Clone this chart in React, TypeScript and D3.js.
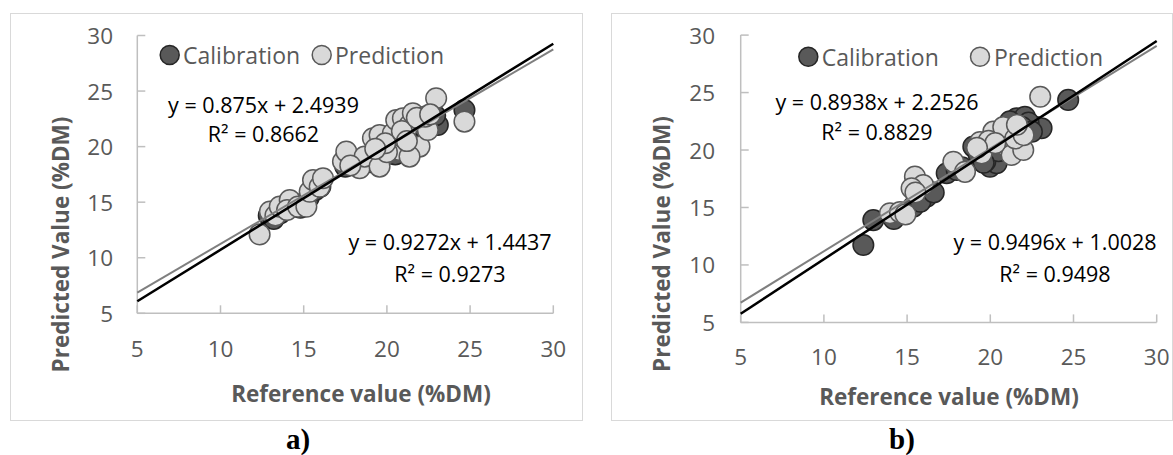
import React from "react";
import * as d3 from "d3";

// ---------- data ----------
const ticks = [5, 10, 15, 20, 25, 30];

const calA_ref = [12.9, 13.2, 13.6, 14.3, 14.8, 15.3, 15.7, 16.0, 17.5, 17.8, 18.4, 18.8, 19.3, 19.7, 20.0, 20.3, 20.7, 21.0, 21.2, 21.5, 21.8, 22.0, 22.3, 22.6, 23.06, 22.9, 24.66, 19.0, 20.5, 21.4];
const calA_pred = [13.8, 13.5, 14.0, 14.6, 14.5, 15.4, 16.1, 16.4, 18.2, 18.8, 18.2, 19.0, 19.5, 20.2, 19.6, 20.8, 21.2, 20.5, 21.8, 22.3, 21.2, 22.0, 21.6, 22.4, 21.95, 22.8, 23.3, 18.6, 19.3, 20.2];
const predA_ref = [12.35, 12.97, 13.3, 13.56, 14.16, 14.0, 14.66, 15.16, 15.36, 15.56, 15.96, 16.16, 17.36, 17.56, 18.36, 18.66, 19.16, 19.56, 19.76, 19.56, 20.36, 20.76, 20.56, 20.96, 21.36, 21.56, 21.96, 22.16, 22.46, 21.36, 22.96, 24.66, 20.0, 21.0, 22.3, 19.9, 20.9, 21.8, 21.2, 22.6, 19.3, 17.8];
const predA_pred = [12.1, 14.15, 13.8, 14.6, 15.2, 14.3, 14.6, 14.6, 15.95, 17.0, 16.4, 17.15, 18.65, 19.55, 18.05, 19.1, 20.75, 21.05, 19.1, 18.2, 21.2, 19.7, 22.4, 22.55, 21.95, 23.0, 20.0, 22.1, 21.5, 19.1, 24.35, 22.25, 19.5, 20.8, 22.7, 20.3, 21.4, 22.6, 20.5, 22.9, 19.8, 18.3];

const calB_ref = [12.37, 12.97, 15.37, 16.17, 15.8, 17.38, 17.98, 18.98, 19.98, 20.38, 19.7, 21.58, 22.08, 21.18, 22.78, 23.08, 24.68, 20.8, 21.5, 22.3, 16.6, 19.3, 20.0, 18.3, 14.2, 21.9, 22.5, 20.5, 19.6, 20.9];
const calB_pred = [11.74, 13.9, 15.07, 15.94, 15.5, 17.98, 18.26, 20.3, 18.55, 18.85, 19.0, 22.76, 22.9, 22.5, 22.0, 21.9, 24.36, 21.6, 21.0, 22.4, 16.3, 19.6, 20.3, 18.5, 14.0, 22.0, 21.6, 19.9, 18.9, 20.9];
const predB_ref = [13.97, 14.57, 15.47, 15.97, 15.27, 17.78, 18.48, 19.38, 19.48, 20.58, 20.98, 21.28, 21.78, 21.98, 23.0, 20.18, 20.78, 21.5, 14.9, 15.5, 19.9, 22.0, 20.3, 21.6, 19.2];
const predB_pred = [14.5, 14.6, 17.7, 16.96, 16.67, 18.98, 18.1, 20.7, 19.7, 21.3, 20.3, 19.57, 21.7, 20.0, 24.64, 21.6, 22.0, 21.0, 14.4, 16.3, 20.8, 21.3, 20.6, 22.2, 20.2];

const fitA = { cal: [0.9272, 1.4437], pred: [0.875, 2.4939] };
const fitB = { cal: [0.9496, 1.0028], pred: [0.8938, 2.2526] };
const eqA = { cal: ["y = 0.9272x + 1.4437", "R² = 0.9273"], pred: ["y = 0.875x + 2.4939", "R² = 0.8662"] };
const eqB = { cal: ["y = 0.9496x + 1.0028", "R² = 0.9498"], pred: ["y = 0.8938x + 2.2526", "R² = 0.8829"] };

const FONT = "'Open Sans', 'Liberation Sans', sans-serif";
const GREY = "#595959";
const AXIS = "#bfbfbf";

type PanelProps = {
  box: [number, number, number, number];
  xr: [number, number];
  yr: [number, number];
  yLabelX: number;
  xLabelY: number;
  xTitle: [number, number];
  yTitle: [number, number];
  legCal: [number, number];
  legPred: [number, number];
  legY: number;
  eqPredPos: [number, number, number];
  eqCalPos: [number, number, number];
  cal: [number[], number[]];
  pred: [number[], number[]];
  fit: { cal: number[]; pred: number[] };
  eq: { cal: string[]; pred: string[] };
  caption: string;
  captionX: number;
};

function Panel(p: PanelProps) {
  const x = d3.scaleLinear().domain([5, 30]).range(p.xr);
  const y = d3.scaleLinear().domain([5, 30]).range(p.yr);
  const fitLine = (f: number[]) =>
    d3
      .line<number>()
      .x((v) => x(v))
      .y((v) => y(f[0] * v + f[1]))([5, 30]) as string;
  const R = 10.3;
  const calFill = "#595959";
  const calStroke = "#262626";
  const predFill = "#d9d9d9";
  const predStroke = "#595959";
  const [bx, by, bw, bh] = p.box;
  return (
    <g>
      <rect x={bx + 0.5} y={by + 0.5} width={bw} height={bh} fill="#fff" stroke="#d9d9d9" strokeWidth={1} />
      {/* axes */}
      <line x1={p.xr[0]} x2={p.xr[1]} y1={p.yr[0]} y2={p.yr[0]} stroke={AXIS} strokeWidth={1.5} />
      <line x1={p.xr[0]} x2={p.xr[0]} y1={p.yr[0]} y2={p.yr[1]} stroke={AXIS} strokeWidth={1.5} />
      {ticks.map((t) => (
        <g key={"t" + t}>
          <line x1={x(t)} x2={x(t)} y1={p.yr[0]} y2={p.yr[0] - 8} stroke={AXIS} strokeWidth={1.5} />
          <line x1={p.xr[0]} x2={p.xr[0] + 8} y1={y(t)} y2={y(t)} stroke={AXIS} strokeWidth={1.5} />
          <text x={x(t)} y={p.xLabelY} textAnchor="middle" dominantBaseline="central" fill={GREY} fontSize={22.5} fontFamily={FONT}>
            {t}
          </text>
          <text x={p.yLabelX} y={y(t)} textAnchor="end" dominantBaseline="central" fill={GREY} fontSize={22.5} fontFamily={FONT}>
            {t}
          </text>
        </g>
      ))}
      {/* markers */}
      {p.cal[0].map((v, i) => (
        <circle key={"c" + i} cx={x(v)} cy={y(p.cal[1][i])} r={R} fill={calFill} stroke={calStroke} strokeWidth={1.5} />
      ))}
      {p.pred[0].map((v, i) => (
        <circle key={"p" + i} cx={x(v)} cy={y(p.pred[1][i])} r={R} fill={predFill} stroke={predStroke} strokeWidth={1.5} />
      ))}
      {/* fit lines */}
      <path d={fitLine(p.fit.pred)} stroke="#7f7f7f" strokeWidth={2} fill="none" />
      <path d={fitLine(p.fit.cal)} stroke="#000" strokeWidth={2.5} fill="none" />
      {/* titles */}
      <text x={p.xTitle[0]} y={p.xTitle[1]} textAnchor="middle" dominantBaseline="central" fill={GREY} fontSize={22.5} fontWeight="bold" fontFamily={FONT}>
        Reference value (%DM)
      </text>
      <text
        transform={`translate(${p.yTitle[0]},${p.yTitle[1]}) rotate(-90)`}
        textAnchor="middle"
        dominantBaseline="central"
        fill={GREY}
        fontSize={22.5}
        fontWeight="bold"
        fontFamily={FONT}
      >
        Predicted Value (%DM)
      </text>
      {/* legend */}
      <circle cx={p.legCal[0]} cy={p.legY} r={9.5} fill={calFill} stroke={calStroke} strokeWidth={1.5} />
      <text x={p.legCal[1]} y={p.legY} dominantBaseline="central" fill={GREY} fontSize={23} fontFamily={FONT}>
        Calibration
      </text>
      <circle cx={p.legPred[0]} cy={p.legY} r={9.5} fill={predFill} stroke={predStroke} strokeWidth={1.5} />
      <text x={p.legPred[1]} y={p.legY} dominantBaseline="central" fill={GREY} fontSize={23} fontFamily={FONT}>
        Prediction
      </text>
      {/* equations */}
      {p.eq.pred.map((s, i) => (
        <text key={"ep" + i} x={p.eqPredPos[0]} y={i === 0 ? p.eqPredPos[1] : p.eqPredPos[2]} textAnchor="middle" dominantBaseline="central" fill="#000" fontSize={21.5} fontFamily={FONT}>
          {s}
        </text>
      ))}
      {p.eq.cal.map((s, i) => (
        <text key={"ec" + i} x={p.eqCalPos[0]} y={i === 0 ? p.eqCalPos[1] : p.eqCalPos[2]} textAnchor="middle" dominantBaseline="central" fill="#000" fontSize={21.5} fontFamily={FONT}>
          {s}
        </text>
      ))}
      <text x={p.captionX} y={449} textAnchor="middle" fill="#000" fontSize={29} fontWeight="bold" fontFamily="'Liberation Serif', 'Times New Roman', serif">
        {p.caption}
      </text>
    </g>
  );
}

export default function App() {
  return (
    <svg width={1173} height={455} style={{ position: "absolute", left: 0, top: 0, background: "#fff" }}>
      <rect width={1173} height={455} fill="#fff" />
      <Panel
        box={[10, 13, 572, 407]}
        xr={[137.3, 553.3]}
        yr={[313.3, 35.5]}
        yLabelX={113}
        xLabelY={348}
        xTitle={[361, 393]}
        yTitle={[60, 244.5]}
        legCal={[169.7, 183]}
        legPred={[321.7, 335]}
        legY={55}
        eqPredPos={[263.5, 104, 133]}
        eqCalPos={[450, 241.7, 273]}
        cal={[calA_ref, calA_pred]}
        pred={[predA_ref, predA_pred]}
        fit={fitA}
        eq={eqA}
        caption="a)"
        captionX={298}
      />
      <Panel
        box={[611, 13, 561, 407]}
        xr={[740.7, 1156.7]}
        yr={[322.4, 35.1]}
        yLabelX={715}
        xLabelY={356.7}
        xTitle={[949, 396.7]}
        yTitle={[661.7, 244]}
        legCal={[808.3, 821.7]}
        legPred={[980, 994]}
        legY={56.7}
        eqPredPos={[877, 101.7, 131.7]}
        eqCalPos={[1055, 241.7, 273.3]}
        cal={[calB_ref, calB_pred]}
        pred={[predB_ref, predB_pred]}
        fit={fitB}
        eq={eqB}
        caption="b)"
        captionX={902}
      />
    </svg>
  );
}
